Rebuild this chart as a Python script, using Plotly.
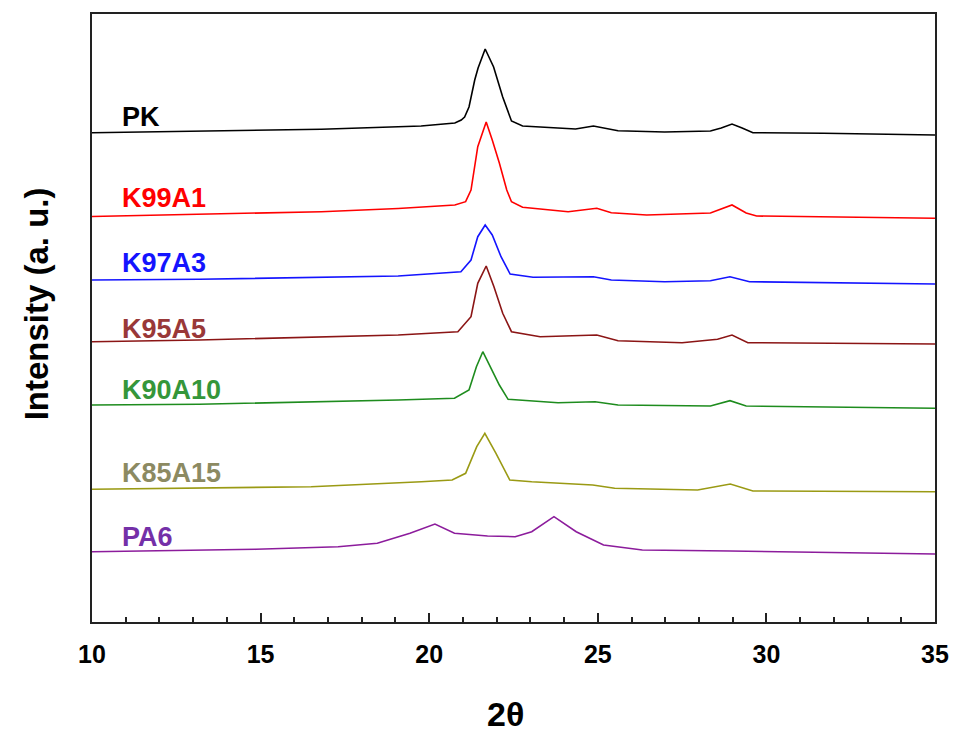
import plotly.graph_objects as go

# 2-theta positions and intensities (a.u., stacked as in the figure)
pk_x = [10, 13.87, 16.8, 19.08, 19.76, 20.76, 20.95, 21.05, 21.18, 21.35, 21.45, 21.66, 21.91, 22.18, 22.44, 22.77,
        23.82, 24.34, 24.87, 25.18, 25.6, 26.98, 28.34, 28.66, 28.98, 29.28, 29.6, 31.7, 35]
pk_y = [489.3, 491, 492.7, 495.3, 496, 499, 502, 505, 515, 542, 554, 573, 555, 525, 501, 496,
        494, 493, 496, 494.3, 491.3, 490, 491, 494, 498, 494, 489.3, 488.7, 487]

k99_x = [10, 16.8, 19.08, 20.76, 21.08, 21.24, 21.44, 21.69, 21.87, 22.08, 22.3, 22.44, 22.77,
         24.12, 24.97, 25.4, 26.45, 28.34, 28.98, 29.4, 29.71, 35]
k99_y = [405.5, 410.3, 413.5, 417, 420.3, 432, 475.3, 500, 482, 459, 432, 420.3, 414.7,
         410.3, 413.7, 409.3, 407, 409, 417, 409, 406, 403.7]

k97_x = [10, 13.18, 19.08, 20.94, 21.24, 21.44, 21.66, 21.87, 22.13, 22.4, 23.08, 24.87, 25.4,
         26.98, 28.34, 28.92, 29.5, 35]
k97_y = [342, 342.7, 346, 350.3, 362, 385.3, 397, 387, 365.3, 348, 344.7, 345.3, 342,
         340.3, 341.3, 345.3, 340.3, 338]

k95_x = [10, 13.18, 19.08, 20.85, 21.24, 21.44, 21.69, 21.92, 22.18, 22.44, 23.29, 24.97, 25.6,
         27.5, 28.55, 28.98, 29.45, 35]
k95_y = [280.3, 282, 287, 290.3, 305.3, 338.7, 356, 335.3, 308.7, 290.3, 285.3, 287, 281.3,
         279.3, 282.7, 287, 279.3, 278]

k90_x = [10, 13.18, 19.08, 20.75, 21.18, 21.4, 21.59, 21.82, 22.08, 22.34, 23.82, 24.92, 25.6,
         28.34, 28.92, 29.4, 35]
k90_y = [217, 217.7, 222, 223.7, 232, 255.3, 270.3, 255.3, 237, 222.7, 219.3, 220.3, 217,
         216, 221.3, 216, 213.7]

k85_x = [10, 16.5, 19.77, 20.68, 21.08, 21.41, 21.65, 21.98, 22.39, 23.04, 24.85, 25.5,
         27.96, 28.93, 29.6, 35]
k85_y = [132.7, 135.3, 140.3, 142, 148.7, 175.3, 188.7, 168.7, 142, 140.3, 137, 133.7,
         132, 138, 131, 130.3]

pa6_x = [10, 14.86, 17.3, 18.46, 19.43, 20.17, 20.75, 21.73, 22.55, 23.04, 23.7, 24.36, 25.17,
         26.32, 28.93, 35]
pa6_y = [70.3, 72.7, 75.3, 78.7, 88.7, 98, 88.7, 86, 85.3, 90.3, 105.3, 90.3, 77,
         72, 71, 68]

names = ["PK", "K99A1", "K97A3", "K95A5", "K90A10", "K85A15", "PA6"]
xs = [pk_x, k99_x, k97_x, k95_x, k90_x, k85_x, pa6_x]
ys = [pk_y, k99_y, k97_y, k95_y, k90_y, k85_y, pa6_y]
line_colors = ["#000000", "#ff0000", "#1414ff", "#8b1515", "#1e8c1e", "#9a9a14", "#8c1c9c"]
label_colors = ["#000000", "#ff0000", "#1414ff", "#993838", "#35963a", "#8c8a62", "#7430a8"]
label_y = [505, 424, 359, 293.5, 232, 149, 85]
label_x = 10.83

x_ticks = [10, 15, 20, 25, 30, 35]

fig = go.Figure()
for n, x, y, c in zip(names, xs, ys, line_colors):
    fig.add_trace(go.Scatter(x=x, y=y, mode="lines", name=n,
                             line=dict(color=c, width=1.6), showlegend=False))

annotations = []
for n, ly, lc in zip(names, label_y, label_colors):
    annotations.append(dict(x=label_x, y=ly, xref="x", yref="y", text=n, showarrow=False,
                            xanchor="left", yanchor="middle",
                            font=dict(family="Liberation Sans, Arial", size=27, color=lc, weight="bold")))

# plot area in pixels: x 92..940, y 14..622
PL, PR, PT, PB = 92, 940, 14, 622
def px(xp):
    return (xp - PL) / (PR - PL)
def py(yp):
    return (PB - yp) / (PB - PT)

annotations.append(dict(x=px(508), y=py(714), xref="paper", yref="paper", text="2θ",
                        showarrow=False, xanchor="center", yanchor="middle",
                        font=dict(family="Liberation Sans, Arial", size=34, color="#000", weight="bold")))
annotations.append(dict(x=px(36), y=py(304), xref="paper", yref="paper", text="Intensity (a. u.)",
                        showarrow=False, xanchor="center", yanchor="middle", textangle=-90,
                        font=dict(family="Liberation Sans, Arial", size=33, color="#000", weight="bold")))

fig.update_layout(
    width=961, height=734,
    margin=dict(l=PL, r=961 - PR, t=PT, b=734 - PB),
    plot_bgcolor="white", paper_bgcolor="white",
    annotations=annotations,
    xaxis=dict(range=[10, 35], tickvals=x_ticks, ticktext=[str(t) for t in x_ticks],
               ticks="inside", ticklen=9, tickwidth=1.5, tickcolor="#222",
               minor=dict(dtick=1, ticks="inside", ticklen=5, tickwidth=1.5, tickcolor="#222"),
               showline=True, linecolor="#222", linewidth=2, mirror=True,
               showgrid=False, zeroline=False, ticklabelstandoff=9,
               tickfont=dict(family="Liberation Sans, Arial", size=25, color="#000", weight="bold")),
    yaxis=dict(range=[0, 608], showticklabels=False, ticks="",
               showline=True, linecolor="#222", linewidth=2, mirror=True,
               showgrid=False, zeroline=False),
)

fig.write_html("out.html")
